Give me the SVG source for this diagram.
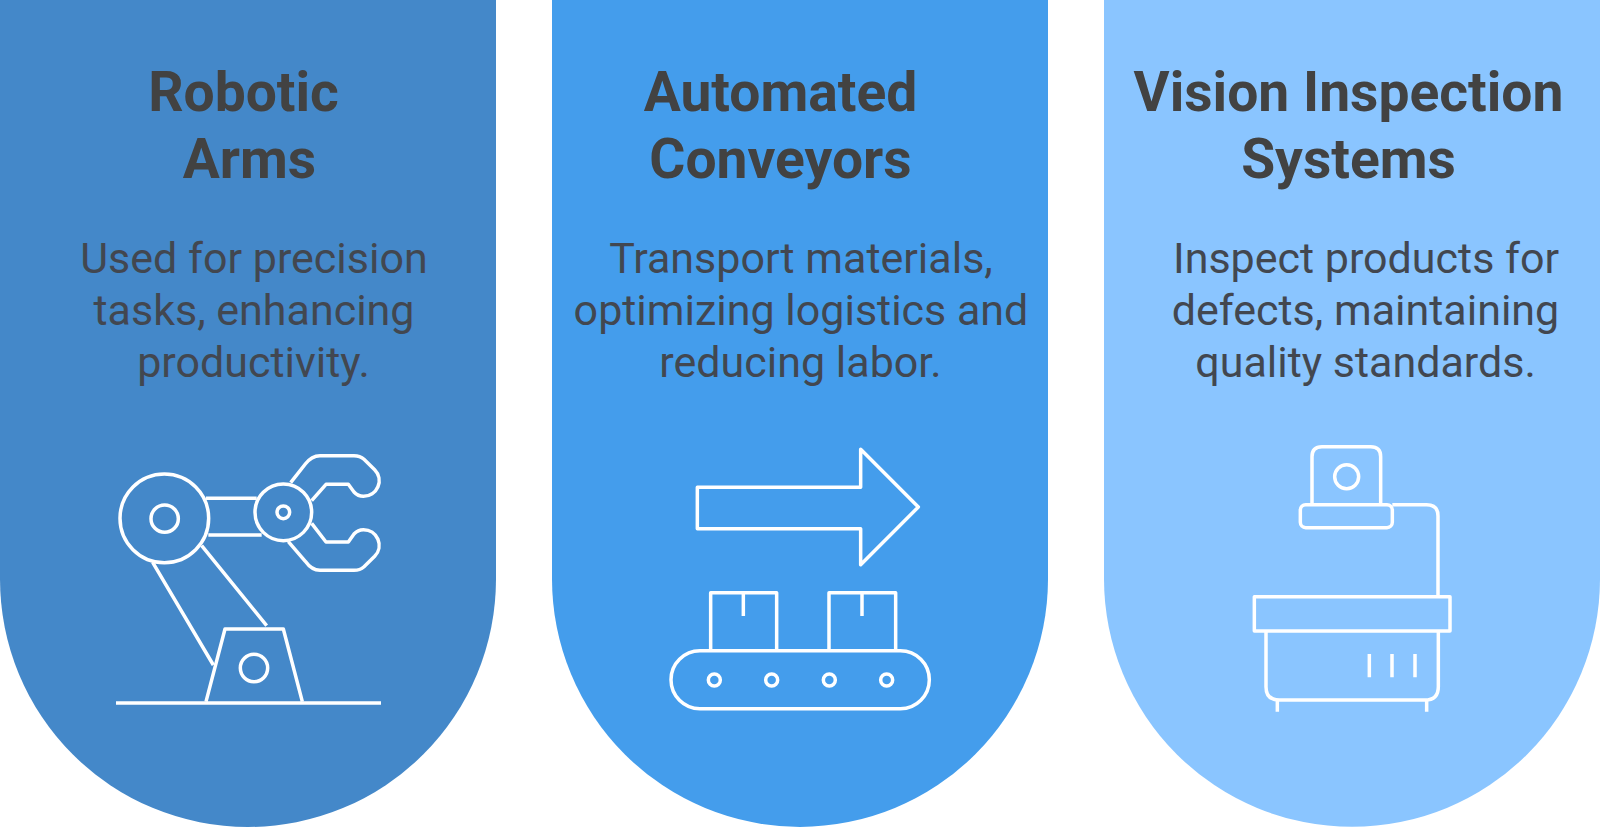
<svg xmlns="http://www.w3.org/2000/svg" width="1600" height="827" viewBox="0 0 1600 827">
<style>
.h{font:700 55.200px Roboto,"Liberation Sans",sans-serif;fill:#424242;text-anchor:middle}
.b{font:400 43px Roboto,"Liberation Sans",sans-serif;fill:#424750;text-anchor:middle}
.i{fill:none;stroke:#fff;stroke-width:10.5;stroke-linejoin:round}
</style>
<rect width="1600" height="827" fill="#fff"/>
<g id="node-robotic-arms">
<path d="M0 0H496V579A248 248 0 0 1 0 579Z" fill="#4488C9"/>
<text class="h" x="243.500" y="111">Robotic</text>
<text class="h" x="249.500" y="178">Arms</text>
<text class="b" x="254" y="273">Used for precision</text>
<text class="b" x="254" y="325">tasks, enhancing</text>
<text class="b" x="253.500" y="377">productivity.</text>
<g class="i" transform="translate(80 430) scale(.33333)">
<circle cx="253" cy="265" r="133"/><circle cx="254" cy="266" r="41"/>
<circle cx="610" cy="247" r="85"/><circle cx="610" cy="247" r="19"/>
<path d="M378 205H530M385 315H545M218 397L400 705M365 347L560 587"/>
<path d="M378 815L435 597H610L667 815"/><circle cx="522" cy="714" r="41"/>
<path d="M108 819H903"/>
<path d="M632 158L676 102Q695 77 720 77H822Q840 77 852 88L884 119A47 47 0 0 1 850 199Q834 199 822 186L805 163H738L695 212"/>
<path d="M625 335L676 394Q695 421 720 421H822Q840 421 852 410L884 379A47 47 0 0 0 850 299Q834 299 822 312L805 336H738L695 280"/>
</g>
</g>
<g id="node-automated-conveyors">
<path d="M552 0H1048V579A248 248 0 0 1 552 579Z" fill="#449DEC"/>
<text class="h" x="780.500" y="111">Automated</text>
<text class="h" x="780.500" y="178">Conveyors</text>
<text class="b" x="801" y="273">Transport materials,</text>
<text class="b" x="801" y="325">optimizing logistics and</text>
<text class="b" x="800.500" y="377">reducing labor.</text>
<g class="i" transform="translate(640 430) scale(.33333)">
<path d="M172 172H662V58L835 231L662 404V296H172Z"/>
<path d="M212 662V488H410V662M310 488V558M567 662V488H767V662M666 488V558"/>
<rect x="93" y="662" width="775" height="174" rx="87"/>
<circle cx="223" cy="750" r="18"/><circle cx="395" cy="750" r="18"/><circle cx="568" cy="750" r="18"/><circle cx="740" cy="750" r="18"/>
</g>
</g>
<g id="node-vision-inspection-systems">
<path d="M1104 0H1600V579A248 248 0 0 1 1104 579Z" fill="#8AC5FF"/>
<text class="h" x="1348.500" y="111">Vision Inspection</text>
<text class="h" x="1348.500" y="178">Systems</text>
<text class="b" x="1366" y="273">Inspect products for</text>
<text class="b" x="1365.500" y="325">defects, maintaining</text>
<text class="b" x="1365.500" y="377">quality standards.</text>
<g class="i" transform="translate(1220 430) scale(.33333)">
<path d="M276 222V80Q276 50 306 50H452Q482 50 482 80V222"/><circle cx="380" cy="140" r="36"/>
<rect x="241" y="224" width="276" height="69" rx="16"/>
<path d="M517 224H620Q654 224 654 258V498"/>
<rect x="103" y="500" width="587" height="103"/>
<path d="M138 603V770Q138 810 178 810H615Q655 810 655 770V603"/>
<path d="M172 810V845M620 810V845M448 672V742M516 672V742M585 672V742"/>
</g>
</g>
</svg>
